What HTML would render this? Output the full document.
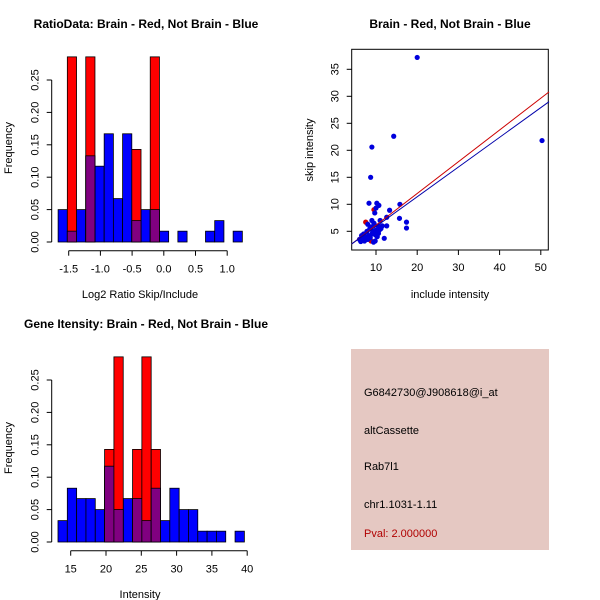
<!DOCTYPE html>
<html><head><meta charset="utf-8"><style>body{margin:0;background:#fff}svg{display:block;font-family:"Liberation Sans",sans-serif}</style></head>
<body>
<svg id="c" width="600" height="600" xmlns="http://www.w3.org/2000/svg">
<rect x="351" y="349" width="198" height="201" fill="#e5c8c2"/>
<text x="364" y="396" font-size="11">G6842730@J908618@i_at</text>
<text x="364" y="434" font-size="11">altCassette</text>
<text x="364" y="470" font-size="11">Rab7l1</text>
<text x="364" y="508" font-size="11">chr1.1031-1.11</text>
<text x="364" y="537" font-size="11" fill="#b00000">Pval: 2.000000</text>
</svg>
<script>
const ratioStart=-1.667, ratioWidth=0.1453;
const ratioBlue=[0.05,0.0167,0.05,0.133,0.117,0.167,0.067,0.167,0.033,0.05,0.05,0.0167,0,0.0167,0,0,0.0167,0.033,0,0.0167];
const ratioRed=[0,0.2857,0,0.2857,0,0,0,0,0.1429,0,0.2857,0,0,0,0,0,0,0,0,0];
const ratioXTicks=[-1.5,-1.0,-0.5,0.0,0.5,1.0];
const intStart=13.2, intWidth=1.32;
const intBlue=[0.033,0.083,0.067,0.067,0.05,0.117,0.05,0.067,0.067,0.033,0.083,0.033,0.083,0.05,0.05,0.0167,0.0167,0.0167,0,0.0167];
const intRed=[0,0,0,0,0,0.1429,0.2857,0,0.1429,0.2857,0.1429,0,0,0,0,0,0,0,0,0];
const intXTicks=[15,20,25,30,35,40];
const freqTicks=[0,0.05,0.10,0.15,0.20,0.25];
const freqLabels=["0.00","0.05","0.10","0.15","0.20","0.25"];
const scatterBlueX=[20,14.3,9,50.3,8.7,8.3,15.8,10.2,10.7,13.3,10,9.7,12.6,15.7,17.4,17.4,11,12.6,12,9,9.5,10.5,8,8.5,9.2,10,11.5,7,7.5,6,6.5,8,9,10,9.8,8.6,7.2,6.8,9.4,10.3,11.2,8.2,7.8,9.6,10.8,6.3,7.4,8.8,9.9,10.6];
const scatterBlueY=[37.2,22.6,20.6,21.8,15,10.2,10,10.2,9.8,8.9,9.3,8.4,7.6,7.4,6.7,5.6,7,6,3.7,7,6.5,6,6.3,5.5,5,5.2,6,4.5,4,3.5,4.2,3.5,4.5,4.8,3.2,3.8,3.2,3.6,3,4,5.5,4.2,5,6.2,5.2,3.1,3.8,5.8,4.3,4.6];
const scatterRedX=[9.5,7.5,8.8];
const scatterRedY=[9,6.7,3.2];
const fitRed=[0.24,0.588], fitBlue=[0.4,0.55];
const xTicksS=[10,20,30,40,50], yTicksS=[5,10,15,20,25,30,35];

const svg=document.getElementById('c'), NS='http://www.w3.org/2000/svg';
function mk(tag,a,name,txt){const e=document.createElementNS(NS,tag);for(const k in a)e.setAttribute(k,a[k]);


if(txt!==undefined)e.textContent=txt;svg.appendChild(e);return e;}

function hist(oy,start,w,blue,red,xs,xTicks,xt,xl,title){
  const y=v=>oy+242-v*648;
  blue.forEach((b,i)=>{const x0=xs(start+i*w),x1=xs(start+(i+1)*w);
    if(b>0)mk('rect',{x:x0,y:y(b),width:x1-x0,height:y(0)-y(b),fill:'#0000ff',stroke:'#000','stroke-width':0.8},'blue-bar');});
  red.forEach((r,i)=>{if(r<=0)return;const x0=xs(start+i*w),x1=xs(start+(i+1)*w);
    mk('rect',{x:x0,y:y(r),width:x1-x0,height:y(0)-y(r),fill:'#ff0000',stroke:'#000','stroke-width':0.8},'red-bar');
    const m=Math.min(r,blue[i]);if(m>0)mk('rect',{x:x0,y:y(m),width:x1-x0,height:y(0)-y(m),fill:'#800080',stroke:'#000','stroke-width':0.8},'overlap-bar');});
  const ax=51.7;
  mk('line',{x1:ax,x2:ax,y1:y(0),y2:y(0.25),stroke:'#000'},'y-axis');
  freqTicks.forEach((t,i)=>{mk('line',{x1:ax-5,x2:ax,y1:y(t),y2:y(t),stroke:'#000'},'y-tick');
    mk('text',{x:0,y:0,transform:`translate(${ax-13},${y(t)}) rotate(-90)`,'font-size':11,'text-anchor':'middle'},'y-tick-label',freqLabels[i]);});
  const by=oy+250.7;
  mk('line',{x1:xs(xTicks[0]),x2:xs(xTicks[xTicks.length-1]),y1:by,y2:by,stroke:'#000'},'x-axis');
  xTicks.forEach(t=>{mk('line',{x1:xs(t),x2:xs(t),y1:by,y2:by+5,stroke:'#000'},'x-tick');
    mk('text',{x:xs(t),y:by+22,'font-size':11,'text-anchor':'middle'},'x-tick-label',xt(t));});
  mk('text',{x:140,y:oy+298,'font-size':11,'text-anchor':'middle'},'x-axis-title',xl);
  mk('text',{x:0,y:0,transform:`translate(12,${oy+148}) rotate(-90)`,'font-size':11,'text-anchor':'middle'},'y-axis-title','Frequency');
  mk('text',{x:title[1],y:oy+28,'font-size':12,'font-weight':'bold','text-anchor':'middle'},'chart-title',title[0]);
}
hist(0,ratioStart,ratioWidth,ratioBlue,ratioRed,v=>68.7+(v+1.5)*63.4,ratioXTicks,t=>t.toFixed(1),'Log2 Ratio Skip/Include',['RatioData: Brain - Red, Not Brain - Blue',146]);
hist(300,intStart,intWidth,intBlue,intRed,v=>70.7+(v-15)*7.06,intXTicks,t=>String(t),'Intensity',['Gene Itensity: Brain - Red, Not Brain - Blue',146]);

// scatter
const sx=v=>376+(v-10)*4.12, sy=v=>231.3-(v-5)*5.4;
const L=351.7,R=548.3,T=49.3,B=250;
mk('rect',{x:L,y:T,width:R-L,height:B-T,fill:'none',stroke:'#000'},'plot-frame');
xTicksS.forEach(t=>{mk('line',{x1:sx(t),x2:sx(t),y1:B,y2:B+5,stroke:'#000'},'x-tick');
  mk('text',{x:sx(t),y:B+21,'font-size':11,'text-anchor':'middle'},'x-tick-label',String(t));});
yTicksS.forEach(t=>{mk('line',{x1:L-5,x2:L,y1:sy(t),y2:sy(t),stroke:'#000'},'y-tick');
  mk('text',{x:0,y:0,transform:`translate(${L-13},${sy(t)}) rotate(-90)`,'font-size':11,'text-anchor':'middle'},'y-tick-label',String(t));});
mk('text',{x:450,y:298,'font-size':11,'text-anchor':'middle'},'x-axis-title','include intensity');
mk('text',{x:0,y:0,transform:'translate(313,150) rotate(-90)','font-size':11,'text-anchor':'middle'},'y-axis-title','skip intensity');
mk('text',{x:450,y:28,'font-size':12,'font-weight':'bold','text-anchor':'middle'},'chart-title','Brain - Red, Not Brain - Blue');
scatterRedX.forEach((x,i)=>mk('circle',{cx:sx(x),cy:sy(scatterRedY[i]),r:2.6,fill:'#d00000'},'red-point'));
scatterBlueX.forEach((x,i)=>mk('circle',{cx:sx(x),cy:sy(scatterBlueY[i]),r:2.6,fill:'#0000dd'},'blue-point'));
const x0=4.1,x1=52;
mk('line',{x1:sx(x0),y1:sy(fitRed[0]+fitRed[1]*x0),x2:sx(x1),y2:sy(fitRed[0]+fitRed[1]*x1),stroke:'#cc0000'},'red-fit-line');
mk('line',{x1:sx(x0),y1:sy(fitBlue[0]+fitBlue[1]*x0),x2:sx(x1),y2:sy(fitBlue[0]+fitBlue[1]*x1),stroke:'#0000aa'},'blue-fit-line');
</script>
</body></html>
